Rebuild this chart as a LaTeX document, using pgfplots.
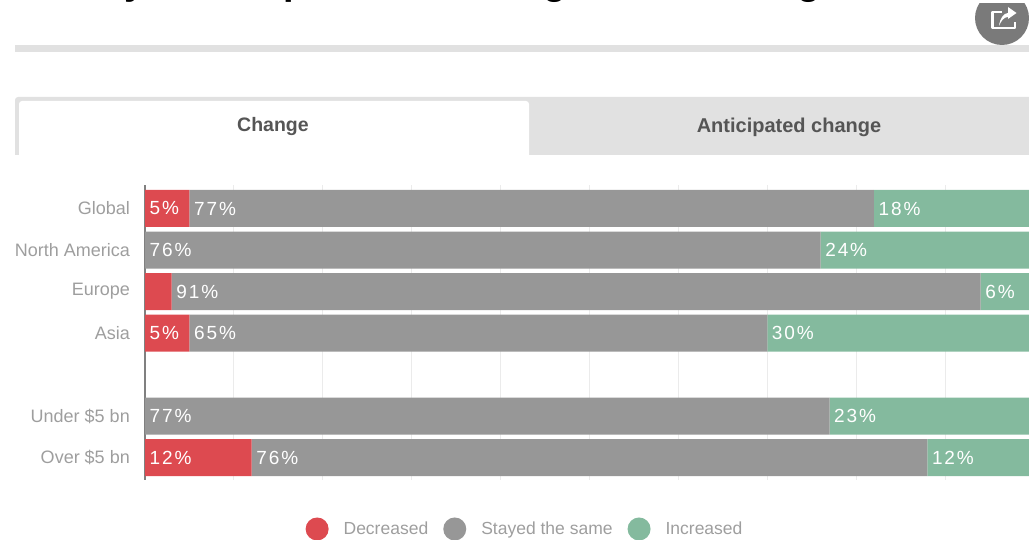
\documentclass[border=0pt]{standalone}
\usepackage{pgfplots}
\pgfplotsset{compat=1.18}
\usepackage{fontspec}
\setmainfont{Liberation Sans}
\newfontfamily\barfont[LetterSpace=10]{Liberation Sans}
\definecolor{redbar}{HTML}{DD4A50}
\definecolor{graybar}{HTML}{979797}
\definecolor{greenbar}{HTML}{84BA9E}
\definecolor{labgray}{HTML}{9E9E9E}
\definecolor{tabgray}{HTML}{E1E1E1}
\definecolor{tabtext}{HTML}{555555}
\definecolor{gridgray}{HTML}{EBEBEB}

\pgfplotsset{
  chartbox/.style={
    scale only axis,
    at={(145pt,59pt)},
    anchor=south west,
    width=884pt,
    height=295pt,
    xmin=0, xmax=99.44,
    ymin=-0.566, ymax=6.54,
    y dir=reverse,
  },
}

\begin{document}
\begin{tikzpicture}[x=1pt,y=1pt]
\path[use as bounding box] (0,0) rectangle (1029,539);
\clip (0,0) rectangle (1029,539);

% cut off title, only the descenders are in the frame
\foreach \xx/\ch in {135/y,295/p,555/g,809/g}
  \node[anchor=base,inner sep=0pt,font=\fontsize{38}{42}\selectfont\bfseries] at (\xx,544) {\ch};

% rule under the title
\fill[tabgray] (15,487) rectangle (1029,494);

% share button
\begin{scope}
\clip (960,480) rectangle (1029,535);
\fill[black!52] (1002,521) circle (27);
\end{scope}
\draw[white,line width=2.4pt,line join=round] (1002,527) -- (992.5,527) -- (992.5,511) -- (1015,511) -- (1015,517);
\fill[white] (999,513) .. controls (1000,521) and (1004,526) .. (1008,526) -- (1008,532) -- (1016.5,526) -- (1008,520) -- (1008,522) .. controls (1004,522) and (1001,518) .. (999,513) -- cycle;

% tabs
\fill[tabgray] (15,384) -- (15,439) arc[start angle=180,end angle=90,radius=3] -- (1029,442) -- (1029,384) -- cycle;
\fill[white,rounded corners=3pt] (19,378) -- (19,438) -- (529,438) -- (529,378) -- cycle;
\fill[white] (0,370) rectangle (1029,384);
\node[font=\fontsize{19.5}{22}\selectfont\bfseries,text=tabtext] at (273,412) {Change};
\node[font=\fontsize{20}{22}\selectfont\bfseries,text=tabtext] at (789,412) {Anticipated change};

\begin{axis}[
    chartbox,
    xbar stacked,
    bar width=37pt,
    axis lines*=left,
    x axis line style={draw=none},
    y axis line style={draw=black!50,line width=1.6pt,-},
    xtick={0,10,...,90},
    xticklabels={},
    xmajorgrids=true,
    grid style={gridgray,line width=0.8pt},
    ytick={0,1,2,3,5,6},
    yticklabels={Global,North America,Europe,Asia,Under \$5 bn,Over \$5 bn},
    yticklabel style={font=\fontsize{18}{20}\selectfont,text=labgray,inner xsep=0pt,xshift=-15pt},
    major tick length=0pt,
    legend columns=3,
    legend cell align=left,
    legend style={
        at={(axis description cs:0.4299,-0.166)},
        anchor=center,
        draw=none,
        fill=none,
        font=\fontsize{17.5}{19}\selectfont,
        text=labgray,
        /tikz/every even column/.append style={column sep=13pt},
        /tikz/every odd column/.append style={column sep=13pt},
    },
    legend image code/.code={\fill[#1] (0pt,0pt) circle (11.5pt);},
]
\addplot[fill=redbar,draw=none] coordinates {(5,0) (0,1) (3,2) (5,3) (0,5) (12,6)};
\addlegendentry{Decreased}
\addplot[fill=graybar,draw=none] coordinates {(77,0) (76,1) (91,2) (65,3) (77,5) (76,6)};
\addlegendentry{Stayed the same}
\addplot[fill=greenbar,draw=none] coordinates {(18,0) (24,1) (6,2) (30,3) (23,5) (12,6)};
\addlegendentry{Increased}
\end{axis}

% the value labels start at the left end of each segment
\begin{axis}[chartbox,hide axis]
\addplot[
    only marks,mark=none,
    point meta=explicit symbolic,
    nodes near coords={\pgfplotspointmeta\%},
    nodes near coords align={anchor=west},
    every node near coord/.append style={
        font=\fontsize{19}{21}\selectfont\barfont,text=white,inner xsep=0pt,xshift=4.5pt},
] table[meta=lab] {
x y lab
0  0 5
5  0 77
82 0 18
0  1 76
76 1 24
3  2 91
94 2 6
0  3 5
5  3 65
70 3 30
0  5 77
77 5 23
0  6 12
12 6 76
88 6 12
};
\end{axis}
\end{tikzpicture}
\end{document}
